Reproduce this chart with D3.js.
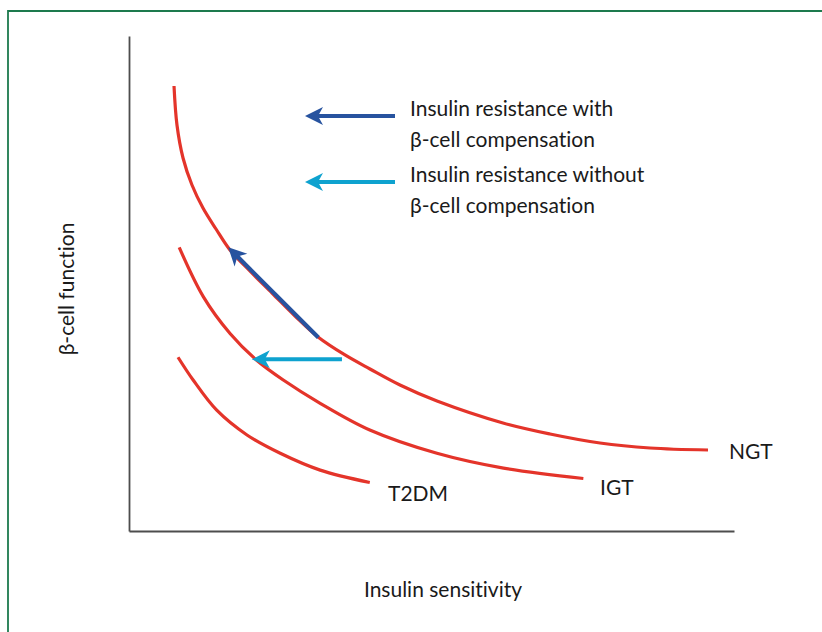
<!DOCTYPE html>
<html>
<head>
<meta charset="utf-8">
<script src="https://cdn.jsdelivr.net/npm/d3@7"></script>
<style>
  html, body { margin: 0; padding: 0; background: #fff; }
  svg text { font-family: "Lato", "Liberation Sans", sans-serif; fill: #1a1a1a;
             font-variant-ligatures: none; font-feature-settings: "liga" 0, "dlig" 0; }
</style>
</head>
<body>
<div id="chart"></div>
<script>
// ---- Data (conceptual units: 0-100 on each axis) ----
const ngtX  = [7.44, 7.93, 8.93, 10.41, 12.23, 14.38, 16.69, 19.98, 23.64, 27.44, 31.24, 35.70, 39.83, 44.79, 50.91, 61.82, 69.59, 77.85, 86.12, 95.70];
const ngtY  = [89.90, 82.02, 75.35, 69.90, 65.25, 61.01, 56.77, 52.53, 48.08, 43.43, 39.19, 35.56, 32.73, 29.49, 26.26, 21.82, 19.60, 17.78, 16.77, 16.36];
const igtX  = [8.3, 12.3, 16.7, 21.1, 25.5, 31.6, 39.8, 50.9, 61.9, 75.1];
const igtY  = [57.3, 47.3, 39.9, 34.5, 30.5, 25.8, 20.4, 15.7, 12.7, 10.6];
const t2dmX = [8.1, 10.6, 14.5, 19.5, 25.0, 31.6, 39.8];
const t2dmY = [35.1, 30.5, 24.4, 19.4, 15.7, 12.3, 9.8];
const curveNames = ["NGT", "IGT", "T2DM"];

// arrows: [x1, y1, x2(tip), y2(tip)]
const compArrow   = [31.3, 39.1, 16.4, 57.3];
const uncompArrow = [35.2, 34.7, 20.3, 34.7];

const legendLines = [
  ["Insulin resistance with", "β-cell compensation"],
  ["Insulin resistance without", "β-cell compensation"]
];
const xLabel = "Insulin sensitivity";
const yLabel = "β-cell function";

// ---- Styles ----
const RED = "#e4342a", DARK = "#27539f", LIGHT = "#0ea2cf";

const W = 822, H = 632;
const svg = d3.select("#chart").append("svg").attr("width", W).attr("height", H);

// frame (only top & left visible)
svg.append("path").attr("d", `M8,${H} V11 H${W}`)
  .attr("fill", "none").attr("stroke", "#1d7a4e").attr("stroke-width", 1.8);

const x = d3.scaleLinear().domain([0, 100]).range([129, 734]);
const y = d3.scaleLinear().domain([0, 100]).range([531, 36]);

const axX = svg.append("g").attr("transform", "translate(0,531)")
  .call(d3.axisBottom(x).tickValues([]).tickSizeOuter(0));
const axY = svg.append("g").attr("transform", "translate(129,0)")
  .call(d3.axisLeft(y).tickValues([]).tickSizeOuter(0));
[axX, axY].forEach(a => a.select(".domain").attr("stroke", "#4d4d4d").attr("stroke-width", 1.8));

const line = d3.line().x(d => x(d[0])).y(d => y(d[1])).curve(d3.curveCatmullRom.alpha(0.5));
const series = [
  d3.zip(ngtX, ngtY), d3.zip(igtX, igtY), d3.zip(t2dmX, t2dmY)
];
svg.selectAll("path.curve").data(series).join("path")
  .attr("class", "curve")
  .attr("d", line)
  .attr("fill", "none").attr("stroke", RED).attr("stroke-width", 3.2)
  .attr("stroke-linecap", "butt");

// curve labels
const labelPos = [[729, 459], [600, 495], [388, 501]];
svg.selectAll("text.clabel").data(curveNames).join("text")
  .attr("class", "clabel")
  .attr("x", (d, i) => labelPos[i][0]).attr("y", (d, i) => labelPos[i][1])
  .attr("font-size", 21).text(d => d);

function arrow(px1, py1, px2, py2, color) {
  const ang = Math.atan2(py2 - py1, px2 - px1);
  const back = 12;
  const sx = px2 - Math.cos(ang) * back, sy = py2 - Math.sin(ang) * back;
  svg.append("line").attr("x1", px1).attr("y1", py1).attr("x2", sx).attr("y2", sy)
    .attr("stroke", color).attr("stroke-width", 4.2);
  svg.append("path").attr("d", "M0,0 L-18,-9 L-13,0 L-18,9 Z")
    .attr("fill", color)
    .attr("transform", `translate(${px2},${py2}) rotate(${ang * 180 / Math.PI})`);
}
arrow(x(compArrow[0]), y(compArrow[1]), x(compArrow[2]), y(compArrow[3]), DARK);
arrow(x(uncompArrow[0]), y(uncompArrow[1]), x(uncompArrow[2]), y(uncompArrow[3]), LIGHT);

// legend
const legColors = [DARK, LIGHT];
const legY = [116, 182];
legendLines.forEach((lines, i) => {
  arrow(395, legY[i], 305, legY[i], legColors[i]);
  const t = svg.append("text").attr("x", 410).attr("y", legY[i]).attr("font-size", 21);
  lines.forEach((l, j) => {
    t.append("tspan").attr("x", 410).attr("dy", j === 0 ? 0 : 31).text(l);
  });
});

// axis titles
svg.append("text").attr("x", 443).attr("y", 597).attr("text-anchor", "middle")
  .attr("font-size", 21).text(xLabel);
svg.append("text").attr("transform", "translate(74,289) rotate(-90)")
  .attr("text-anchor", "middle").attr("font-size", 21).text(yLabel);
</script>
</body>
</html>
